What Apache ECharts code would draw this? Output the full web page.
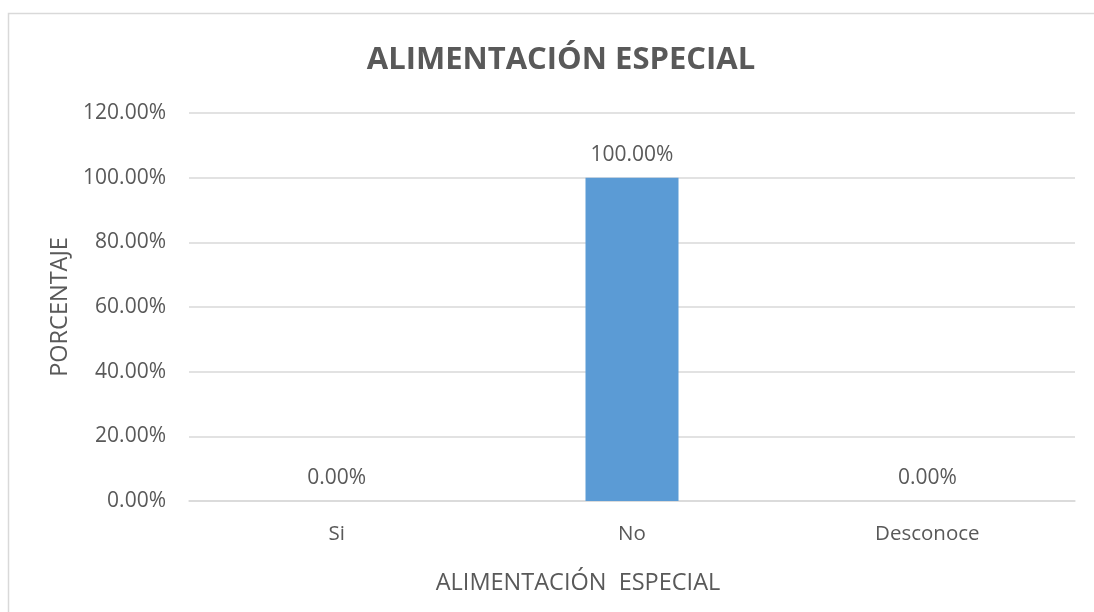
<!DOCTYPE html>
<html>
<head>
<meta charset="utf-8">
<script src="https://cdn.jsdelivr.net/npm/echarts@6/dist/echarts.min.js"></script>
<style>
  html, body { margin: 0; padding: 0; background: #fff; }
  #chart { width: 1094px; height: 612px; }
</style>
</head>
<body>
<div id="chart"></div>
<script>
const categories = ['Si', 'No', 'Desconoce']
const values = [0, 1, 0]
const yTicks = [0, 0.2, 0.4, 0.6, 0.8, 1.0, 1.2]

const textColor = '#595959'
const fontFamily = '"Open Sans", "Liberation Sans", sans-serif'

const chart = echarts.init(document.getElementById('chart'))

chart.setOption({
  animation: false,
  title: {
    text: 'ALIMENTACIÓN ESPECIAL',
    left: 556,
    top: 40,
    textAlign: 'center',
    textStyle: {
      color: textColor,
      fontSize: 31,
      fontWeight: 'bold',
      fontFamily: fontFamily
    }
  },
  // outer chart frame (only top and left edges fall inside the picture)
  graphic: [
    {
      type: 'polyline',
      shape: { points: [[8.5, 620], [8.5, 13.5], [1100, 13.5]] },
      style: { fill: 'none', stroke: '#d9d9d9', lineWidth: 1.5 },
      silent: true
    }
  ],
  grid: {
    left: 189,
    right: 19,
    top: 113,
    bottom: 111
  },
  xAxis: {
    type: 'category',
    data: categories,
    name: 'ALIMENTACIÓN  ESPECIAL',
    nameLocation: 'middle',
    nameGap: 70,
    nameTextStyle: {
      color: textColor,
      fontSize: 23.5,
      fontFamily: fontFamily,
      padding: [0, 108, 0, 0]
    },
    axisLine: { lineStyle: { color: '#d9d9d9', width: 1.5 } },
    axisTick: { show: false },
    axisLabel: { color: textColor, fontSize: 20.5, fontFamily: fontFamily, margin: 23 }
  },
  yAxis: {
    type: 'value',
    min: yTicks[0],
    max: yTicks[yTicks.length - 1],
    interval: 0.2,
    name: 'PORCENTAJE',
    nameLocation: 'middle',
    nameGap: 113,
    nameTextStyle: { color: textColor, fontSize: 23.5, fontFamily: fontFamily },
    axisLine: { show: false },
    axisTick: { show: false },
    splitLine: { lineStyle: { color: '#d9d9d9', width: 1.5 } },
    axisLabel: {
      color: textColor,
      fontSize: 21,
      fontFamily: fontFamily,
      margin: 23,
      formatter: v => (v * 100).toFixed(2) + '%'
    }
  },
  series: [
    {
      type: 'bar',
      data: values,
      barWidth: 93,
      itemStyle: { color: '#5b9bd5' },
      label: {
        show: true,
        position: 'top',
        distance: 12,
        color: textColor,
        fontSize: 21,
        fontFamily: fontFamily,
        formatter: p => (p.value * 100).toFixed(2) + '%'
      }
    }
  ]
})
</script>
</body>
</html>
